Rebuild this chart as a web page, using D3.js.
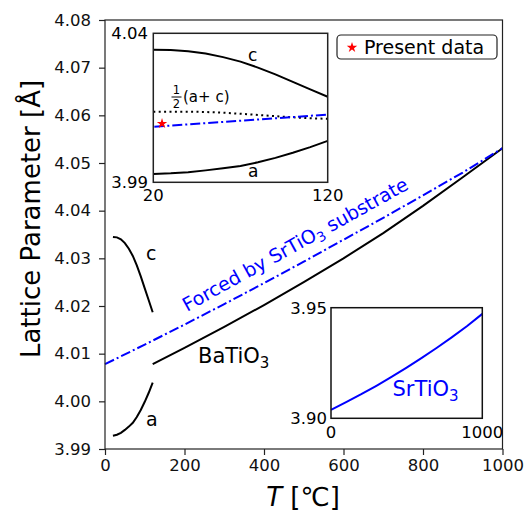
<!DOCTYPE html>
<html>
<head>
<meta charset="utf-8">
<script src="https://d3js.org/d3.v7.min.js"></script>
<style>
  body { margin: 0; background: #fff; }
  text { font-family: "DejaVu Sans", sans-serif; }
</style>
</head>
<body>
<svg id="chart"></svg>
<script>
  // BaTiO3 low-temperature branch (tetragonal), T in C
  var tLow = [20, 30, 40, 50, 60, 70, 80, 90, 100, 110, 120];
  var cLow = [4.0345, 4.0344, 4.0340, 4.0332, 4.0320, 4.0305, 4.0285, 4.0262, 4.0237, 4.0212, 4.0187];
  var aLow = [3.9928, 3.9930, 3.9934, 3.9940, 3.9947, 3.9955, 3.9967, 3.9982, 3.9999, 4.0018, 4.0039];

  // BaTiO3 cubic branch
  var tCubic = [120, 200, 300, 400, 500, 600, 700, 800, 900, 1000];
  var cubic = [4.0078, 4.0112, 4.0156, 4.0202, 4.0250, 4.0300, 4.0353, 4.0410, 4.0470, 4.0531];

  // forced by SrTiO3 substrate
  var tForced = [0, 100, 200, 300, 400, 500, 600, 700, 800, 900, 1000];
  var forced = [4.0078, 4.0119, 4.0161, 4.0204, 4.0248, 4.0293, 4.0339, 4.0385, 4.0432, 4.0480, 4.0531];

  // SrTiO3 lattice parameter (small inset)
  var tSto = [0, 100, 200, 300, 400, 500, 600, 700, 800, 900, 1000];
  var sto = [3.9038, 3.9073, 3.9109, 3.9147, 3.9187, 3.9229, 3.9273, 3.9319, 3.9367, 3.9417, 3.9472];

  // present data point
  var presentT = [25];
  var presentV = [4.0097];

  var xTicks = [0, 200, 400, 600, 800, 1000];
  var yTicks = [3.99, 4.00, 4.01, 4.02, 4.03, 4.04, 4.05, 4.06, 4.07, 4.08];

  var W = 525, H = 513;
  var svg = d3.select('#chart').attr('width', W).attr('height', H);

  var x = d3.scaleLinear().domain([0, 1000]).range([105, 502.5]);
  var y = d3.scaleLinear().domain([3.99, 4.08]).range([449, 20]);

  function pts(ts, vs) { return ts.map(function(t, i) { return [t, vs[i]]; }); }

  // ---- main axes ----
  var line = d3.line().x(function(d) { return x(d[0]); }).y(function(d) { return y(d[1]); });

  svg.append('path').attr('d', line(pts(tLow, cLow)))
    .attr('fill', 'none').attr('stroke', 'black').attr('stroke-width', 2);
  svg.append('path').attr('d', line(pts(tLow, aLow)))
    .attr('fill', 'none').attr('stroke', 'black').attr('stroke-width', 2);
  svg.append('path').attr('d', line(pts(tCubic, cubic)))
    .attr('fill', 'none').attr('stroke', 'black').attr('stroke-width', 2);
  svg.append('path').attr('d', line(pts(tForced, forced)))
    .attr('fill', 'none').attr('stroke', 'blue').attr('stroke-width', 2)
    .attr('stroke-dasharray', '10,3,2,3');

  // frame
  svg.append('rect').attr('x', 105).attr('y', 20).attr('width', 397.5).attr('height', 429)
    .attr('fill', 'none').attr('stroke', '#222').attr('stroke-width', 1.2);

  var xAxis = svg.append('g').attr('transform', 'translate(0,449)')
    .call(d3.axisBottom(x).tickValues(xTicks).tickSize(6).tickPadding(4).tickFormat(d3.format('d')));
  var yAxis = svg.append('g').attr('transform', 'translate(105,0)')
    .call(d3.axisLeft(y).tickValues(yTicks).tickSize(6).tickPadding(8).tickFormat(d3.format('.2f')));
  [xAxis, yAxis].forEach(function(g) {
    g.select('.domain').remove();
    g.selectAll('line').attr('stroke', '#222').attr('stroke-width', 1.2);
    g.selectAll('text').attr('font-size', 16.5).attr('fill', '#111')
      .attr('font-family', '"DejaVu Sans", sans-serif');
  });

  svg.append('text').attr('transform', 'translate(40,219) rotate(-90)')
    .attr('text-anchor', 'middle').attr('font-size', 26).text('Lattice Parameter [Å]');
  var xl = svg.append('text').attr('x', 303).attr('y', 506).attr('text-anchor', 'middle').attr('font-size', 26);
  xl.append('tspan').attr('font-style', 'italic').text('T');
  xl.append('tspan').text(' [℃]');

  // curve labels
  svg.append('text').attr('x', x(118) - 6).attr('y', 260).attr('font-size', 19).text('c');
  svg.append('text').attr('x', x(118) - 6).attr('y', 426).attr('font-size', 19).text('a');
  var bt = svg.append('text').attr('x', 198).attr('y', 363).attr('font-size', 21);
  bt.append('tspan').text('BaTiO');
  bt.append('tspan').attr('font-size', 15).attr('dy', 5).text('3');

  var fl = svg.append('text').attr('transform', 'translate(187,312) rotate(-29)')
    .attr('font-size', 19).attr('fill', 'blue');
  fl.append('tspan').text('Forced by SrTiO');
  fl.append('tspan').attr('font-size', 13.5).attr('dy', 4).text('3');
  fl.append('tspan').attr('dy', -4).text(' substrate');

  // ---- legend ----
  svg.append('rect').attr('x', 337).attr('y', 35).attr('width', 160).attr('height', 24)
    .attr('rx', 4).attr('fill', 'white').attr('stroke', '#222').attr('stroke-width', 1.2);
  svg.append('path').attr('d', d3.symbol().type(d3.symbolStar).size(34)())
    .attr('transform', 'translate(352,47.5)').attr('fill', 'red');
  svg.append('text').attr('x', 364).attr('y', 53.5).attr('font-size', 19).text('Present data');

  // ---- inset 1: low-T detail ----
  var xi = d3.scaleLinear().domain([20, 120]).range([153.3, 327.7]);
  var yi = d3.scaleLinear().domain([3.99, 4.04]).range([182.3, 33.3]);
  var lineI = d3.line().x(function(d) { return xi(d[0]); }).y(function(d) { return yi(d[1]); });
  var ins1 = svg.append('g');
  ins1.append('clipPath').attr('id', 'clip1').append('rect')
    .attr('x', 153.3).attr('y', 33.3).attr('width', 174.4).attr('height', 149);
  ins1.append('rect').attr('x', 153.3).attr('y', 33.3).attr('width', 174.4).attr('height', 149).attr('fill', 'white');
  var c1 = ins1.append('g').attr('clip-path', 'url(#clip1)');
  var avg = tLow.map(function(t, i) { return [t, (aLow[i] + cLow[i]) / 2]; });
  c1.append('path').attr('d', lineI(avg)).attr('fill', 'none').attr('stroke', 'black')
    .attr('stroke-width', 2).attr('stroke-dasharray', '2,3.4');
  c1.append('path').attr('d', lineI(pts(tLow, cLow))).attr('fill', 'none').attr('stroke', 'black').attr('stroke-width', 2);
  c1.append('path').attr('d', lineI(pts(tLow, aLow))).attr('fill', 'none').attr('stroke', 'black').attr('stroke-width', 2);
  c1.append('path').attr('d', lineI(pts(tForced, forced))).attr('fill', 'none').attr('stroke', 'blue')
    .attr('stroke-width', 2).attr('stroke-dasharray', '10,3,2,3');
  c1.selectAll('.star').data(pts(presentT, presentV)).enter().append('path')
    .attr('d', d3.symbol().type(d3.symbolStar).size(34)())
    .attr('transform', function(d) { return 'translate(' + xi(d[0]) + ',' + yi(d[1]) + ')'; })
    .attr('fill', 'red');
  ins1.append('rect').attr('x', 153.3).attr('y', 33.3).attr('width', 174.4).attr('height', 149)
    .attr('fill', 'none').attr('stroke', '#222').attr('stroke-width', 1.5);
  ins1.append('text').attr('x', 148).attr('y', yi(4.04) + 6).attr('text-anchor', 'end').attr('font-size', 16.5).text('4.04');
  ins1.append('text').attr('x', 148).attr('y', yi(3.99) + 6).attr('text-anchor', 'end').attr('font-size', 16.5).text('3.99');
  ins1.append('text').attr('x', xi(20)).attr('y', 201).attr('text-anchor', 'middle').attr('font-size', 16.5).text('20');
  ins1.append('text').attr('x', xi(120)).attr('y', 201).attr('text-anchor', 'middle').attr('font-size', 16.5).text('120');
  ins1.append('text').attr('x', 248).attr('y', 61).attr('font-size', 17).text('c');
  ins1.append('text').attr('x', 248).attr('y', 177).attr('font-size', 17).text('a');
  // 1/2 (a + c)
  ins1.append('text').attr('x', 176.5).attr('y', 94).attr('text-anchor', 'middle').attr('font-size', 11.5).text('1');
  ins1.append('line').attr('x1', 171.5).attr('x2', 181.5).attr('y1', 97).attr('y2', 97).attr('stroke', 'black').attr('stroke-width', 1);
  ins1.append('text').attr('x', 176.5).attr('y', 107.5).attr('text-anchor', 'middle').attr('font-size', 11.5).text('2');
  ins1.append('text').attr('x', 183).attr('y', 102).attr('font-size', 15).text('(a+ c)');

  // ---- inset 2: SrTiO3 ----
  var xs = d3.scaleLinear().domain([0, 1000]).range([331, 482.3]);
  var ys = d3.scaleLinear().domain([3.90, 3.95]).range([418.3, 307.7]);
  var lineS = d3.line().x(function(d) { return xs(d[0]); }).y(function(d) { return ys(d[1]); });
  var ins2 = svg.append('g');
  ins2.append('rect').attr('x', 331).attr('y', 307.7).attr('width', 151.3).attr('height', 110.6).attr('fill', 'white');
  ins2.append('path').attr('d', lineS(pts(tSto, sto))).attr('fill', 'none').attr('stroke', 'blue').attr('stroke-width', 2);
  ins2.append('rect').attr('x', 331).attr('y', 307.7).attr('width', 151.3).attr('height', 110.6)
    .attr('fill', 'none').attr('stroke', '#111').attr('stroke-width', 1.5);
  ins2.append('text').attr('x', 327).attr('y', ys(3.95) + 6).attr('text-anchor', 'end').attr('font-size', 16.5).text('3.95');
  ins2.append('text').attr('x', 327).attr('y', ys(3.90) + 6).attr('text-anchor', 'end').attr('font-size', 16.5).text('3.90');
  ins2.append('text').attr('x', xs(0)).attr('y', 438).attr('text-anchor', 'middle').attr('font-size', 16.5).text('0');
  ins2.append('text').attr('x', xs(1000)).attr('y', 438).attr('text-anchor', 'middle').attr('font-size', 16.5).text('1000');
  var st = ins2.append('text').attr('x', 392.5).attr('y', 396).attr('font-size', 21).attr('fill', 'blue');
  st.append('tspan').text('SrTiO');
  st.append('tspan').attr('font-size', 15).attr('dy', 5).text('3');
</script>
</body>
</html>
